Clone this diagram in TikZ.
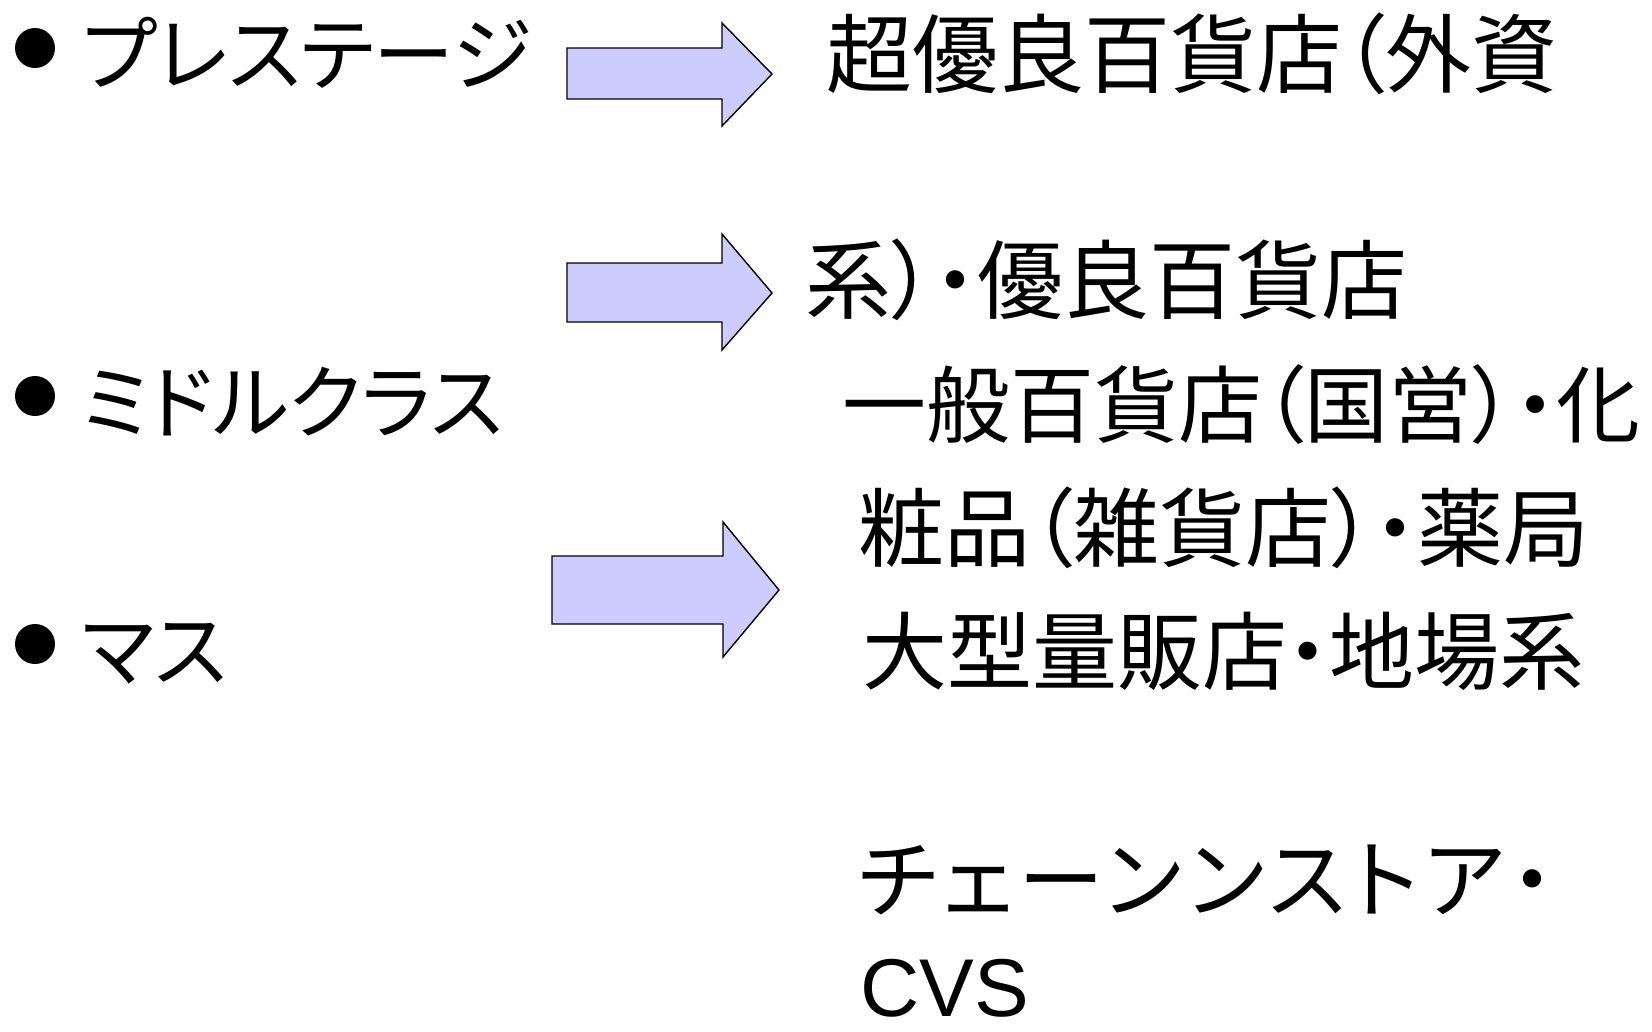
\documentclass[tikz,border=0pt]{standalone}
\usepackage{fontspec}
\newfontfamily\jp[RawFeature=+palt]{Noto Sans CJK JP}
\newfontfamily\jpwide[RawFeature=+palt,LetterSpace=7]{Noto Sans CJK JP}
\newfontfamily\lat{Liberation Sans}
\definecolor{arrowfill}{HTML}{CCCCFF}
\tikzset{
  blockarrow/.style={draw=black, line width=1.4pt, fill=arrowfill, line join=miter},
  bulletdot/.style={circle, fill=black, inner sep=0pt, minimum size=40pt},
  lefttext/.style={anchor=base west, inner sep=0pt, font=\jp\fontsize{81}{85}\selectfont},
  righttext/.style={anchor=base west, inner sep=0pt, font=\jp\fontsize{86}{90}\selectfont},
  cvstext/.style={anchor=base west, inner sep=0pt, text depth=0pt, font=\lat\fontsize{82}{86}\selectfont}
}
\begin{document}
\begin{tikzpicture}[x=1pt,y=-1pt]
\useasboundingbox (0,0) rectangle (1652,1031);
% bullets
\node[bulletdot] (b1) at (35,48) {};
\node[bulletdot] (b2) at (35,396) {};
\node[bulletdot] (b3) at (35,644) {};
% left labels
\node[lefttext] (l1) at (82,84) {プレステージ};
\node[lefttext] (l2) at (82,432) {ミドルクラス};
\node[lefttext] (l3) at (82,680) {マス};
% block arrows
\draw[blockarrow] (567,48) -- (722,48) -- (722,23) -- (772,74) -- (722,126) -- (722,99) -- (567,99) -- cycle;
\draw[blockarrow] (567,263) -- (722,263) -- (722,234) -- (772,293) -- (722,350) -- (722,322) -- (567,322) -- cycle;
\draw[blockarrow] (552,556) -- (723,556) -- (723,522) -- (779,590) -- (723,657) -- (723,624) -- (552,624) -- cycle;
% right column
\node[righttext] (r1) at (826,86) {超優良百貨店（外資};
\node[righttext] (r2) at (805,312) {系）・優良百貨店};
\node[righttext, font=\jp\fontsize{84}{88}\selectfont] (r3) at (842,436) {一般百貨店（国営）・化};
\node[righttext] (r4) at (858,560) {粧品（雑貨店）・薬局};
\node[righttext, font=\jp\fontsize{85}{89}\selectfont] (r5) at (862,683) {大型量販店・地場系};
\node[righttext, font=\jpwide\fontsize{86}{90}\selectfont] (r6) at (858,911) {チェーンンストア・};
\node[cvstext] (r7) at (860,1016) {CVS};
\end{tikzpicture}
\end{document}
